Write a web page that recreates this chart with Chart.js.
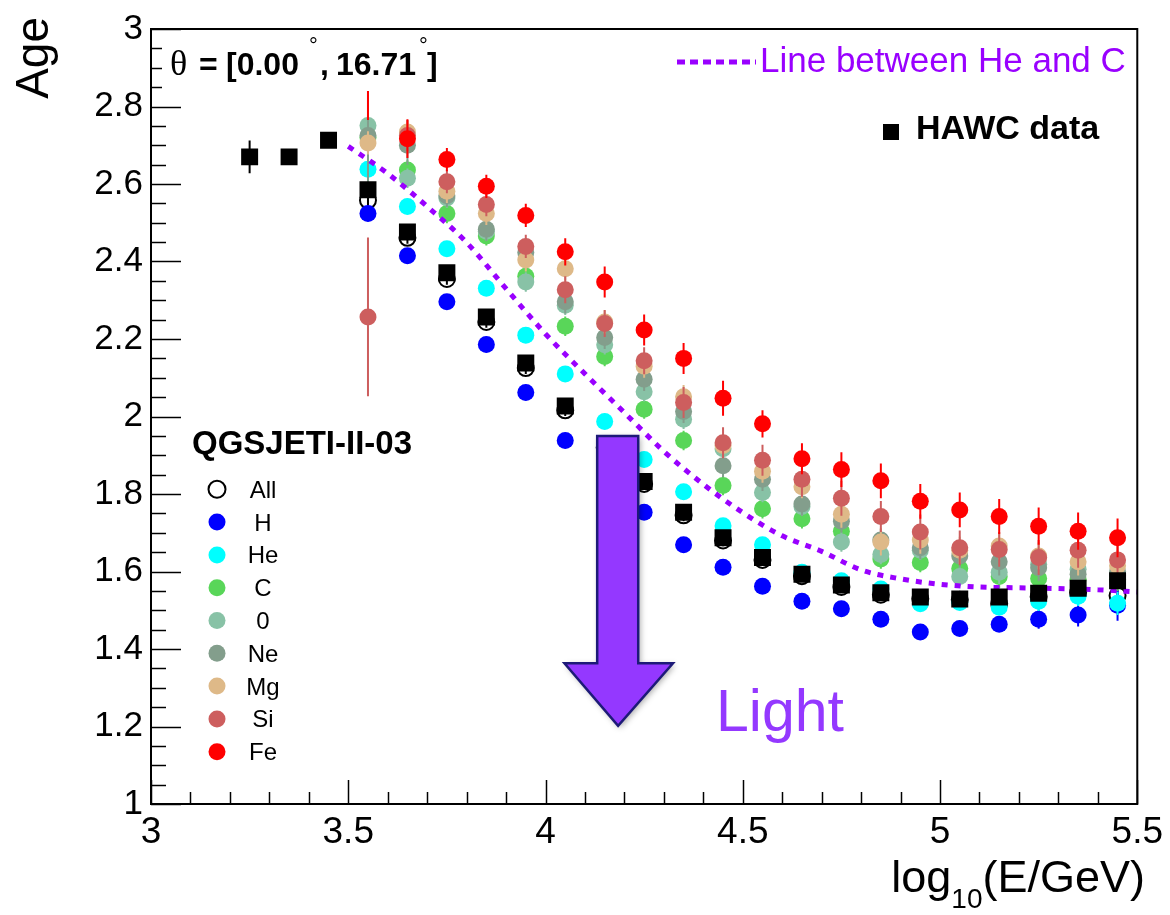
<!DOCTYPE html>
<html>
<head>
<meta charset="utf-8">
<script src="https://cdn.jsdelivr.net/npm/chart.js@4.4.0/dist/chart.umd.min.js"></script>
<style>
html,body{margin:0;padding:0;background:#ffffff;}
#wrap{width:1170px;height:915px;position:relative;}
</style>
</head>
<body>
<div id="wrap"><canvas id="c" width="1170" height="915"></canvas></div>
<script>
// ---------------- DATA ----------------
const bins = [3.55,3.65,3.75,3.85,3.95,4.05,4.15,4.25,4.35,4.45,4.55,4.65,4.75,4.85,4.95,5.05,5.15,5.25,5.35,5.45];

const ageAll = [2.558,2.461,2.355,2.244,2.125,2.016,1.920,1.826,1.745,1.680,1.630,1.588,1.560,1.540,1.530,1.527,1.517,1.535,1.546,1.538];
const ageH   = [2.524,2.415,2.296,2.186,2.062,1.938,1.840,1.753,1.669,1.611,1.562,1.523,1.504,1.477,1.444,1.453,1.464,1.477,1.488,1.513];
const ageHe  = [2.638,2.542,2.433,2.331,2.210,2.110,1.987,1.889,1.806,1.718,1.669,1.598,1.576,1.555,1.517,1.520,1.508,1.523,1.536,1.518];
const ageC   = [2.720,2.636,2.524,2.466,2.362,2.233,2.155,2.019,1.938,1.822,1.762,1.736,1.704,1.632,1.623,1.608,1.587,1.582,1.580,1.580];
const ageO   = [2.751,2.615,2.564,2.478,2.347,2.287,2.185,2.064,1.993,1.917,1.804,1.768,1.676,1.644,1.655,1.587,1.598,1.619,1.606,1.590];
const ageNe  = [2.725,2.700,2.570,2.483,2.423,2.296,2.204,2.096,2.013,1.873,1.838,1.774,1.730,1.681,1.661,1.640,1.625,1.610,1.593,1.600];
const ageMg  = [2.706,2.734,2.581,2.524,2.404,2.381,2.244,2.130,2.051,1.925,1.859,1.819,1.748,1.676,1.681,1.655,1.666,1.640,1.625,1.615];
const ageSi  = [2.257,2.725,2.606,2.547,2.439,2.327,2.240,2.144,2.036,1.932,1.887,1.838,1.789,1.742,1.702,1.661,1.657,1.636,1.655,1.630];
const ageFe  = [2.865,2.717,2.663,2.594,2.519,2.425,2.347,2.223,2.150,2.047,1.981,1.891,1.863,1.834,1.781,1.759,1.742,1.717,1.704,1.687];

const errAll = [0.015,0.015,0.015,0.015,0.015,0.015,0.015,0.015,0.015,0.015,0.015,0.015,0.015,0.015,0.015,0.015,0.015,0.015,0.015,0.015];
const errH   = [0.02,0.02,0.02,0.02,0.02,0.02,0.02,0.02,0.02,0.02,0.02,0.02,0.02,0.02,0.02,0.02,0.02,0.025,0.03,0.04];
const errHe  = [0.02,0.02,0.02,0.02,0.02,0.02,0.02,0.02,0.02,0.02,0.02,0.02,0.02,0.02,0.02,0.02,0.02,0.025,0.025,0.03];
const errC   = [0.025,0.025,0.025,0.025,0.025,0.025,0.025,0.025,0.025,0.025,0.025,0.025,0.025,0.025,0.025,0.025,0.03,0.03,0.03,0.03];
const errO   = [0.025,0.025,0.025,0.025,0.025,0.025,0.025,0.025,0.025,0.025,0.025,0.025,0.025,0.025,0.025,0.025,0.03,0.03,0.03,0.03];
const errNe  = [0.12,0.05,0.03,0.03,0.03,0.03,0.03,0.03,0.03,0.03,0.03,0.03,0.03,0.03,0.03,0.03,0.035,0.035,0.035,0.035];
const errMg  = [0.03,0.03,0.03,0.03,0.03,0.03,0.03,0.03,0.03,0.03,0.03,0.03,0.035,0.035,0.035,0.035,0.035,0.035,0.035,0.04];
const errSi  = [0.205,0.04,0.03,0.03,0.03,0.035,0.035,0.035,0.04,0.04,0.04,0.045,0.045,0.04,0.045,0.045,0.045,0.045,0.045,0.05];
const errFe  = [0.10,0.05,0.03,0.03,0.03,0.035,0.04,0.04,0.04,0.045,0.035,0.04,0.045,0.045,0.045,0.045,0.045,0.048,0.048,0.05];

const hawcX   = [3.25,3.35,3.45,3.55,3.65,3.75,3.85,3.95,4.05,4.15,4.25,4.35,4.45,4.55,4.65,4.75,4.85,4.95,5.05,5.15,5.25,5.35,5.45];
const hawcAge = [2.670,2.670,2.713,2.585,2.476,2.371,2.257,2.138,2.027,1.930,1.832,1.753,1.687,1.636,1.593,1.565,1.545,1.534,1.529,1.534,1.544,1.557,1.576];
const hawcErr = [0.042,0.012,0.008,0.008,0.008,0.008,0.008,0.008,0.008,0.008,0.008,0.008,0.008,0.008,0.008,0.008,0.008,0.008,0.008,0.008,0.008,0.008,0.008];

const lineX   = [3.5,3.6,3.7,3.8,3.9,4.0,4.1,4.2,4.3,4.4,4.5,4.6,4.7,4.8,4.9,5.0,5.1,5.2,5.3,5.4,5.5];
const lineAge = [2.697,2.627,2.542,2.449,2.330,2.213,2.110,2.010,1.910,1.825,1.752,1.692,1.652,1.604,1.581,1.567,1.560,1.558,1.556,1.553,1.547];

const seriesNames = ['All','H','He','C','0','Ne','Mg','Si','Fe'];
const seriesAges  = [ageAll, ageH, ageHe, ageC, ageO, ageNe, ageMg, ageSi, ageFe];
const seriesErrs  = [errAll, errH, errHe, errC, errO, errNe, errMg, errSi, errFe];

const xTickValues = [3, 3.5, 4, 4.5, 5, 5.5];
const xTickLabels = ['3','3.5','4','4.5','5','5.5'];
const yTickValues = [1,1.2,1.4,1.6,1.8,2,2.2,2.4,2.6,2.8,3];
const yTickLabels = ['1','1.2','1.4','1.6','1.8','2','2.2','2.4','2.6','2.8','3'];

// ---------------- STYLE ----------------
const seriesColors = ['#000000','#0000ff','#00ffff','#59d659','#88c2a6','#839e8c','#deb988','#cd5e5e','#ff0000'];
const SANS = '"Liberation Sans", Arial, Helvetica, sans-serif';
const VIOLET = '#9900ff';
const ARROW = '#9438ff';

const datasets = [];
datasets.push({
  label: 'HAWC data',
  data: hawcX.map((x, i) => ({x: x, y: hawcAge[i]})),
  errY: hawcErr, errColor: '#000000',
  pointStyle: 'rect', pointRadius: 12, pointHoverRadius: 12,
  backgroundColor: '#000000', borderColor: '#000000', borderWidth: 0,
  order: 1
});
datasets.push({
  label: 'Line between He and C',
  data: lineX.map((x, i) => ({x: x, y: lineAge[i]})),
  showLine: true, pointRadius: 0, pointHoverRadius: 0,
  borderColor: VIOLET, borderWidth: 5, borderDash: [6, 7],
  cubicInterpolationMode: 'monotone', fill: false,
  order: 2
});
for (let s = seriesNames.length - 1; s >= 0; s--) {
  const open = seriesNames[s] === 'All';
  datasets.push({
    label: seriesNames[s],
    data: bins.map((x, i) => ({x: x, y: seriesAges[s][i]})),
    errY: seriesErrs[s], errColor: seriesColors[s],
    pointStyle: 'circle',
    pointRadius: open ? 8 : 8.5, pointHoverRadius: open ? 8 : 8.5,
    backgroundColor: open ? 'rgba(0,0,0,0)' : seriesColors[s],
    borderColor: seriesColors[s], borderWidth: open ? 2 : 0,
    order: 3 + (seriesNames.length - 1 - s)
  });
}

function labelFor(values, labels, v) {
  const i = values.findIndex(t => Math.abs(t - v) < 1e-6);
  return i >= 0 ? labels[i] : '';
}

const overlay = {
  id: 'overlay',
  beforeDatasetDraw(chart, args) {
    const ds = chart.data.datasets[args.index];
    if (!ds.errY) return;
    const ctx = chart.ctx, a = chart.chartArea, xs = chart.scales.x, ys = chart.scales.y;
    ctx.save();
    ctx.beginPath(); ctx.rect(a.left, a.top, a.right - a.left, a.bottom - a.top); ctx.clip();
    ctx.strokeStyle = ds.errColor; ctx.lineWidth = 2;
    ds.data.forEach((p, i) => {
      const e = ds.errY[i]; if (!e) return;
      const px = xs.getPixelForValue(p.x);
      ctx.beginPath();
      ctx.moveTo(px, ys.getPixelForValue(p.y + e));
      ctx.lineTo(px, ys.getPixelForValue(p.y - e));
      ctx.stroke();
    });
    ctx.restore();
  },
  afterDatasetsDraw(chart) {
    const ctx = chart.ctx, a = chart.chartArea, xs = chart.scales.x, ys = chart.scales.y;
    ctx.save();
    // frame
    ctx.strokeStyle = '#000'; ctx.lineWidth = 2;
    ctx.strokeRect(a.left, a.top, a.right - a.left, a.bottom - a.top);
    // x ticks (inside)
    ctx.lineWidth = 1.5;
    for (let k = 0; k <= 25; k++) {
      const v = 3 + k * 0.1;
      const px = Math.round(xs.getPixelForValue(v)) + 0.5;
      const len = (k % 5 === 0) ? 24 : 12;
      ctx.beginPath(); ctx.moveTo(px, a.bottom); ctx.lineTo(px, a.bottom - len); ctx.stroke();
    }
    // y ticks (inside)
    for (let k = 0; k <= 40; k++) {
      const v = 1 + k * 0.05;
      const py = Math.round(ys.getPixelForValue(v)) + 0.5;
      const len = (k % 4 === 0) ? 30 : 15;
      ctx.beginPath(); ctx.moveTo(a.left, py); ctx.lineTo(a.left + len, py); ctx.stroke();
    }

    // big arrow "Light"
    const X = v => xs.getPixelForValue(v), Y = v => ys.getPixelForValue(v);
    ctx.save();
    ctx.beginPath();
    ctx.moveTo(X(4.131), Y(1.950));
    ctx.lineTo(X(4.235), Y(1.950));
    ctx.lineTo(X(4.235), Y(1.363));
    ctx.lineTo(X(4.323), Y(1.363));
    ctx.lineTo(X(4.184), Y(1.202));
    ctx.lineTo(X(4.048), Y(1.363));
    ctx.lineTo(X(4.131), Y(1.363));
    ctx.closePath();
    ctx.shadowColor = 'rgba(0,0,0,0.35)'; ctx.shadowBlur = 6; ctx.shadowOffsetX = 2; ctx.shadowOffsetY = 2;
    ctx.fillStyle = ARROW; ctx.fill();
    ctx.shadowColor = 'rgba(0,0,0,0)';
    ctx.strokeStyle = '#1d1a78'; ctx.lineWidth = 2.5; ctx.lineJoin = 'miter'; ctx.stroke();
    ctx.restore();
    ctx.fillStyle = ARROW; ctx.font = '59px ' + SANS; ctx.textAlign = 'left'; ctx.textBaseline = 'alphabetic';
    ctx.fillText('Light', 716, 731);

    // theta label with white box
    ctx.fillStyle = '#ffffff'; ctx.fillRect(162, 37, 283, 54);
    ctx.fillStyle = '#000000';
    ctx.font = '36px "Liberation Serif", "DejaVu Serif", serif';
    ctx.fillText('\u03b8', 170, 75);
    ctx.font = 'bold 32px ' + SANS;
    ctx.fillText('=', 199, 75);
    ctx.fillText('[0.00', 226, 75);
    ctx.fillText(',', 320, 75);
    ctx.fillText('16.71', 336, 75);
    ctx.fillText(']', 427, 75);
    ctx.font = '22px ' + SANS;
    ctx.fillText('\u00b0', 309, 53);
    ctx.fillText('\u00b0', 419, 53);

    // legend: line between He and C
    ctx.strokeStyle = VIOLET; ctx.lineWidth = 5; ctx.setLineDash([8, 5]);
    ctx.beginPath(); ctx.moveTo(677, 62); ctx.lineTo(756, 62); ctx.stroke();
    ctx.setLineDash([]);
    ctx.fillStyle = VIOLET; ctx.font = '35px ' + SANS;
    ctx.fillText('Line between He and C', 760, 72);

    // legend: HAWC data
    ctx.fillStyle = '#000'; ctx.fillRect(883, 124, 16, 16);
    ctx.font = 'bold 34px ' + SANS;
    ctx.fillText('HAWC data', 916, 139);

    // legend: QGSJETI-II-03
    ctx.font = 'bold 33px ' + SANS;
    ctx.fillText('QGSJETI-II-03', 192, 454);
    ctx.font = '24px ' + SANS; ctx.textAlign = 'center';
    for (let s = 0; s < seriesNames.length; s++) {
      const cy = 489.3 + s * 32.8;
      ctx.beginPath(); ctx.arc(217, cy, 8.5, 0, Math.PI * 2);
      if (seriesNames[s] === 'All') { ctx.strokeStyle = '#000'; ctx.lineWidth = 2; ctx.stroke(); }
      else { ctx.fillStyle = seriesColors[s]; ctx.fill(); }
      ctx.fillStyle = '#000';
      ctx.fillText(seriesNames[s], 263, cy + 8.5);
    }
    ctx.restore();
  },
  afterDraw(chart) {
    const ctx = chart.ctx;
    ctx.save();
    ctx.fillStyle = '#000';
    // y title
    ctx.translate(48, 17);
    ctx.rotate(-Math.PI / 2);
    ctx.font = '46px ' + SANS; ctx.textAlign = 'right'; ctx.textBaseline = 'alphabetic';
    ctx.fillText('Age', 0, 0);
    ctx.restore();
    // x title with subscript
    ctx.save();
    ctx.fillStyle = '#000'; ctx.textBaseline = 'alphabetic'; ctx.textAlign = 'left';
    ctx.font = '45px ' + SANS; const w1 = ctx.measureText('log').width; const w3 = ctx.measureText('(E/GeV)').width;
    ctx.font = '28px ' + SANS; const w2 = ctx.measureText('10').width;
    let x0 = 1145 - (w1 + w2 + w3);
    ctx.font = '45px ' + SANS; ctx.fillText('log', x0, 892);
    ctx.font = '28px ' + SANS; ctx.fillText('10', x0 + w1, 908);
    ctx.font = '45px ' + SANS; ctx.fillText('(E/GeV)', x0 + w1 + w2, 892);
    ctx.restore();
  }
};

new Chart(document.getElementById('c'), {
  type: 'scatter',
  data: { datasets: datasets },
  options: {
    responsive: false,
    animation: false,
    devicePixelRatio: 1,
    events: [],
    layout: { padding: { left: 0, right: 28, top: 21, bottom: 0 } },
    plugins: { legend: { display: false }, tooltip: { enabled: false }, title: { display: false } },
    scales: {
      x: {
        type: 'linear', min: 3, max: 5.5,
        border: { display: false },
        grid: { display: false, drawTicks: false },
        afterFit: s => { s.height = 111; },
        ticks: {
          stepSize: 0.5, autoSkip: false, maxRotation: 0, minRotation: 0, padding: 7,
          color: '#000', font: { family: SANS, size: 37 },
          callback: v => labelFor(xTickValues, xTickLabels, v)
        }
      },
      y: {
        type: 'linear', min: 1, max: 3,
        border: { display: false },
        grid: { display: false, drawTicks: false },
        afterFit: s => { s.width = 151; },
        ticks: {
          stepSize: 0.2, autoSkip: false, padding: 8,
          color: '#000', font: { family: SANS, size: 35 },
          callback: v => labelFor(yTickValues, yTickLabels, v)
        }
      }
    }
  },
  plugins: [overlay]
});
</script>
</body>
</html>
